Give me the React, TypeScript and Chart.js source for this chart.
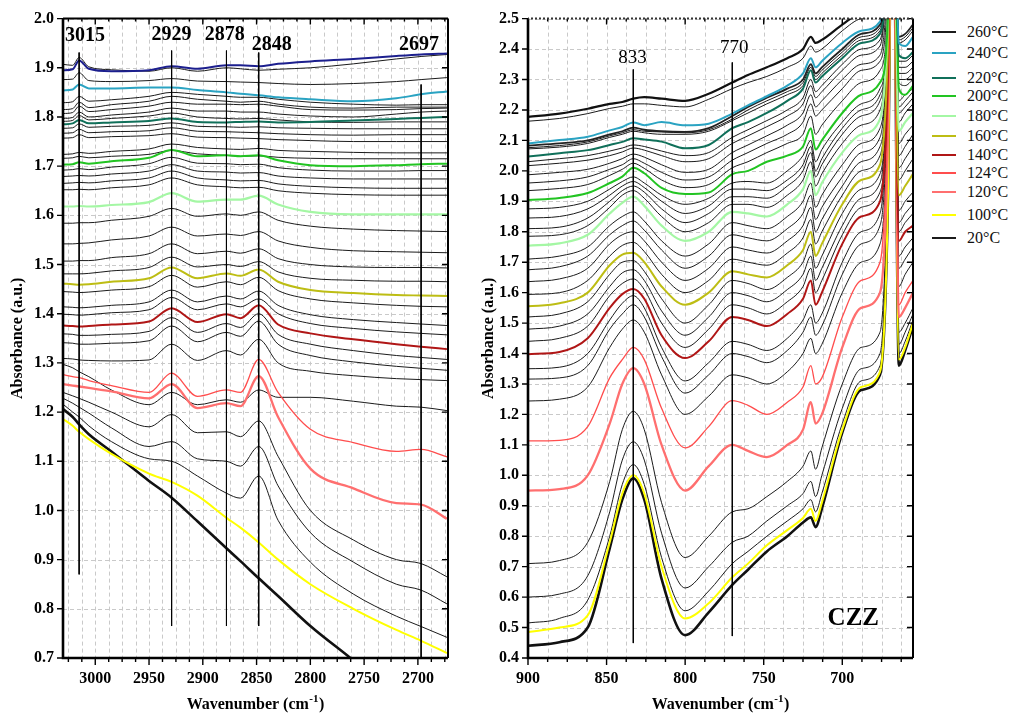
import React, { useEffect, useRef } from "react";
import { Chart, registerables } from "chart.js";

Chart.register(...registerables);

const SERIF = '"Liberation Serif", "Times New Roman", serif';
const INK = "#1b1b1b";

// ---------- C–H stretching region (left panel) ----------
const LEFT_WN = [3030, 3021, 3015, 3006, 2985, 2950, 2929, 2905, 2878, 2865, 2848, 2830, 2800, 2760, 2720, 2697, 2673];

const L_TOP = [1.907, 1.905, 1.921, 1.902, 1.896, 1.893, 1.9, 1.893, 1.9, 1.898, 1.895, 1.897, 1.9, 1.908, 1.918, 1.923, 1.927];
const L_NAVY = [1.895, 1.897, 1.915, 1.898, 1.893, 1.895, 1.903, 1.898, 1.905, 1.905, 1.903, 1.908, 1.913, 1.918, 1.924, 1.927, 1.929];
const L_K3 = [1.876, 1.877, 1.89, 1.874, 1.872, 1.874, 1.878, 1.873, 1.872, 1.871, 1.87, 1.868, 1.866, 1.868, 1.872, 1.876, 1.88];
const L_240 = [1.854, 1.856, 1.866, 1.858, 1.858, 1.86, 1.86, 1.855, 1.85, 1.847, 1.844, 1.84, 1.836, 1.832, 1.838, 1.846, 1.852];
const L_C1 = [1.829, 1.831, 1.842, 1.832, 1.835, 1.842, 1.85, 1.846, 1.842, 1.84, 1.84, 1.836, 1.83, 1.826, 1.824, 1.825, 1.825];
const L_C2 = [1.815, 1.817, 1.83, 1.819, 1.825, 1.832, 1.842, 1.836, 1.832, 1.83, 1.832, 1.826, 1.82, 1.818, 1.82, 1.82, 1.82];
const L_C3 = [1.807, 1.809, 1.822, 1.811, 1.815, 1.822, 1.83, 1.826, 1.826, 1.825, 1.826, 1.822, 1.815, 1.814, 1.815, 1.817, 1.818];
const L_C4 = [1.797, 1.799, 1.81, 1.8, 1.804, 1.81, 1.818, 1.812, 1.812, 1.81, 1.81, 1.806, 1.802, 1.8, 1.806, 1.81, 1.812];
const L_C5 = [1.791, 1.793, 1.803, 1.794, 1.797, 1.802, 1.808, 1.8, 1.797, 1.796, 1.797, 1.794, 1.79, 1.789, 1.79, 1.79, 1.79];
const L_220 = [1.785, 1.787, 1.794, 1.787, 1.789, 1.792, 1.797, 1.79, 1.789, 1.79, 1.791, 1.789, 1.79, 1.793, 1.796, 1.798, 1.8];
const L_D1 = [1.777, 1.778, 1.786, 1.779, 1.781, 1.783, 1.788, 1.781, 1.78, 1.779, 1.78, 1.778, 1.777, 1.776, 1.776, 1.776, 1.776];
const L_D2 = [1.767, 1.768, 1.775, 1.768, 1.77, 1.772, 1.778, 1.771, 1.77, 1.769, 1.768, 1.766, 1.764, 1.763, 1.764, 1.764, 1.764];
const L_D3 = [1.757, 1.758, 1.764, 1.758, 1.76, 1.762, 1.766, 1.759, 1.758, 1.757, 1.756, 1.754, 1.752, 1.75, 1.75, 1.75, 1.75];
const L_D4 = [1.724, 1.725, 1.728, 1.726, 1.73, 1.735, 1.745, 1.738, 1.735, 1.734, 1.736, 1.732, 1.73, 1.728, 1.727, 1.727, 1.727];
const L_D5 = [1.716, 1.717, 1.72, 1.717, 1.72, 1.724, 1.732, 1.725, 1.722, 1.72, 1.721, 1.718, 1.716, 1.715, 1.715, 1.715, 1.715];
const L_200 = [1.703, 1.704, 1.708, 1.705, 1.71, 1.717, 1.733, 1.72, 1.722, 1.72, 1.722, 1.712, 1.702, 1.7, 1.702, 1.704, 1.705];
const L_E1 = [1.692, 1.693, 1.695, 1.693, 1.698, 1.705, 1.718, 1.706, 1.705, 1.703, 1.704, 1.697, 1.692, 1.69, 1.69, 1.691, 1.691];
const L_E2 = [1.679, 1.68, 1.681, 1.68, 1.684, 1.69, 1.703, 1.69, 1.688, 1.686, 1.687, 1.68, 1.676, 1.674, 1.674, 1.674, 1.674];
const L_E3 = [1.665, 1.666, 1.667, 1.666, 1.67, 1.676, 1.69, 1.676, 1.672, 1.67, 1.671, 1.664, 1.659, 1.656, 1.655, 1.655, 1.655];
const L_E4 = [1.652, 1.652, 1.653, 1.652, 1.656, 1.662, 1.676, 1.662, 1.658, 1.656, 1.657, 1.65, 1.645, 1.642, 1.641, 1.641, 1.641];
const L_180 = [1.618, 1.618, 1.619, 1.618, 1.621, 1.627, 1.645, 1.628, 1.632, 1.632, 1.64, 1.622, 1.607, 1.602, 1.602, 1.602, 1.602];
const L_F1 = [1.584, 1.584, 1.585, 1.585, 1.59, 1.598, 1.614, 1.598, 1.603, 1.6, 1.607, 1.59, 1.578, 1.572, 1.569, 1.568, 1.567];
const L_F2 = [1.542, 1.542, 1.543, 1.544, 1.55, 1.558, 1.576, 1.558, 1.562, 1.559, 1.567, 1.548, 1.535, 1.528, 1.526, 1.525, 1.524];
const L_F3 = [1.507, 1.507, 1.508, 1.508, 1.514, 1.522, 1.542, 1.522, 1.527, 1.523, 1.532, 1.512, 1.5, 1.495, 1.494, 1.494, 1.493];
const L_F4 = [1.481, 1.481, 1.481, 1.482, 1.487, 1.494, 1.515, 1.495, 1.5, 1.496, 1.506, 1.485, 1.472, 1.468, 1.466, 1.466, 1.465];
const L_160 = [1.461, 1.46, 1.459, 1.46, 1.465, 1.472, 1.494, 1.472, 1.482, 1.477, 1.49, 1.465, 1.448, 1.442, 1.438, 1.437, 1.436];
const L_G1 = [1.445, 1.444, 1.443, 1.444, 1.448, 1.455, 1.478, 1.454, 1.465, 1.459, 1.474, 1.447, 1.43, 1.422, 1.417, 1.415, 1.414];
const L_G2 = [1.414, 1.413, 1.412, 1.413, 1.417, 1.424, 1.448, 1.424, 1.436, 1.43, 1.446, 1.417, 1.398, 1.388, 1.382, 1.379, 1.376];
const L_G3 = [1.399, 1.398, 1.397, 1.398, 1.402, 1.408, 1.433, 1.408, 1.42, 1.414, 1.43, 1.4, 1.38, 1.37, 1.363, 1.36, 1.357];
const L_140 = [1.376, 1.375, 1.374, 1.375, 1.378, 1.384, 1.411, 1.383, 1.399, 1.391, 1.417, 1.378, 1.36, 1.348, 1.338, 1.333, 1.328];
const L_H1 = [1.359, 1.358, 1.356, 1.356, 1.358, 1.364, 1.392, 1.362, 1.38, 1.372, 1.4, 1.358, 1.338, 1.325, 1.315, 1.311, 1.307];
const L_H2 = [1.341, 1.34, 1.338, 1.338, 1.34, 1.345, 1.375, 1.343, 1.362, 1.354, 1.385, 1.338, 1.315, 1.302, 1.293, 1.289, 1.285];
const L_H3 = [1.309, 1.308, 1.306, 1.305, 1.304, 1.306, 1.338, 1.305, 1.325, 1.316, 1.348, 1.3, 1.283, 1.274, 1.268, 1.266, 1.264];
const L_H4 = [1.297, 1.29, 1.282, 1.272, 1.245, 1.215, 1.24, 1.215, 1.225, 1.22, 1.245, 1.23, 1.23, 1.222, 1.212, 1.21, 1.203];
const L_124 = [1.276, 1.272, 1.27, 1.264, 1.254, 1.24, 1.279, 1.232, 1.245, 1.24, 1.307, 1.24, 1.165, 1.138, 1.12, 1.124, 1.109];
const L_120 = [1.257, 1.254, 1.252, 1.249, 1.242, 1.228, 1.257, 1.208, 1.218, 1.212, 1.273, 1.19, 1.085, 1.045, 1.015, 1.012, 0.983];
const L_B1 = [1.24, 1.233, 1.228, 1.22, 1.2, 1.17, 1.195, 1.158, 1.16, 1.15, 1.182, 1.11, 1.0, 0.94, 0.9, 0.892, 0.865];
const L_B2 = [1.228, 1.218, 1.21, 1.198, 1.168, 1.13, 1.14, 1.105, 1.1, 1.09, 1.13, 1.05, 0.955, 0.895, 0.85, 0.838, 0.81];
const L_B3 = [1.216, 1.2, 1.19, 1.172, 1.14, 1.105, 1.1, 1.07, 1.035, 1.025, 1.07, 0.98, 0.895, 0.83, 0.785, 0.764, 0.742];
const L_100 = [1.186, 1.172, 1.16, 1.145, 1.115, 1.075, 1.058, 1.03, 0.985, 0.965, 0.935, 0.9, 0.85, 0.8, 0.757, 0.735, 0.71];
const L_20 = [1.206, 1.19, 1.175, 1.155, 1.12, 1.06, 1.026, 0.978, 0.923, 0.897, 0.862, 0.826, 0.765, 0.695, 0.62, 0.575, 0.53];

const LEFT_X_LABELS = [3000, 2950, 2900, 2850, 2800, 2750, 2700];
const LEFT_Y_LABELS = [0.7, 0.8, 0.9, 1.0, 1.1, 1.2, 1.3, 1.4, 1.5, 1.6, 1.7, 1.8, 1.9, 2.0];
const LEFT_MARK_WN = [3015, 2929, 2878, 2848, 2697];
const LEFT_MARK_TOP = [1.931, 1.935, 1.935, 1.931, 1.866];
const LEFT_MARK_BOTTOM = [0.87, 0.765, 0.765, 0.765, 0.7];
const LEFT_PEAK_TEXT = ["3015", "2929", "2878", "2848", "2697"];
const LEFT_PEAK_X = [3009.5, 2929, 2879.5, 2836, 2699];
const LEFT_PEAK_Y = [1.964, 1.968, 1.966, 1.947, 1.947];

// ---------- out-of-plane region (right panel) ----------
const RIGHT_WN = [900, 880, 862, 848, 840, 833, 826, 815, 800, 785, 770, 760, 748, 735, 725, 720, 717, 713, 700, 688, 676, 671, 668, 664, 660, 655];

const R_260 = [2.177, 2.188, 2.204, 2.22, 2.226, 2.237, 2.242, 2.237, 2.23, 2.253, 2.29, 2.315, 2.34, 2.37, 2.4, 2.44, 2.42, 2.43, 2.48, 2.52, 2.55, 2.7, 3.2, 2.55, 2.56, 2.58];
const R_K2 = [2.163, 2.172, 2.188, 2.205, 2.212, 2.22, 2.22, 2.215, 2.21, 2.235, 2.27, 2.29, 2.31, 2.34, 2.37, 2.41, 2.39, 2.4, 2.46, 2.5, 2.53, 2.7, 3.2, 2.52, 2.53, 2.55];
const R_240 = [2.09, 2.101, 2.112, 2.133, 2.144, 2.159, 2.15, 2.16, 2.15, 2.155, 2.188, 2.215, 2.245, 2.28, 2.32, 2.37, 2.34, 2.36, 2.42, 2.46, 2.49, 2.7, 3.2, 2.42, 2.41, 2.44];
const R_K4 = [2.083, 2.09, 2.1, 2.12, 2.13, 2.142, 2.135, 2.13, 2.128, 2.14, 2.18, 2.21, 2.24, 2.27, 2.3, 2.35, 2.32, 2.34, 2.4, 2.45, 2.48, 2.7, 3.2, 2.44, 2.45, 2.48];
const R_K5 = [2.076, 2.083, 2.095, 2.115, 2.125, 2.135, 2.13, 2.128, 2.125, 2.135, 2.17, 2.2, 2.23, 2.26, 2.29, 2.34, 2.31, 2.33, 2.39, 2.44, 2.47, 2.7, 3.2, 2.43, 2.44, 2.47];
const R_K6 = [2.072, 2.078, 2.09, 2.11, 2.12, 2.13, 2.125, 2.12, 2.12, 2.13, 2.165, 2.19, 2.22, 2.25, 2.28, 2.33, 2.3, 2.32, 2.38, 2.43, 2.46, 2.7, 3.2, 2.42, 2.43, 2.46];
const R_220 = [2.047, 2.058, 2.068, 2.085, 2.095, 2.107, 2.103, 2.096, 2.074, 2.085, 2.14, 2.16, 2.19, 2.23, 2.27, 2.33, 2.29, 2.31, 2.37, 2.42, 2.45, 2.7, 3.2, 2.38, 2.37, 2.39];
const R_K7 = [2.03, 2.04, 2.05, 2.065, 2.075, 2.085, 2.08, 2.065, 2.05, 2.06, 2.11, 2.135, 2.165, 2.2, 2.24, 2.3, 2.26, 2.28, 2.35, 2.4, 2.43, 2.7, 3.2, 2.36, 2.36, 2.38];
const R_K8 = [2.017, 2.025, 2.035, 2.05, 2.062, 2.075, 2.068, 2.05, 2.03, 2.04, 2.09, 2.115, 2.145, 2.18, 2.22, 2.28, 2.24, 2.26, 2.33, 2.38, 2.41, 2.7, 3.2, 2.34, 2.34, 2.36];
const R_K9 = [1.987, 1.995, 2.005, 2.025, 2.04, 2.055, 2.045, 2.02, 1.995, 2.005, 2.06, 2.085, 2.115, 2.15, 2.19, 2.25, 2.21, 2.23, 2.3, 2.35, 2.38, 2.65, 3.2, 2.32, 2.32, 2.34];
const R_K10 = [1.96, 1.967, 1.98, 2.005, 2.02, 2.04, 2.025, 1.995, 1.97, 1.98, 2.035, 2.06, 2.09, 2.12, 2.16, 2.22, 2.18, 2.2, 2.27, 2.33, 2.36, 2.6, 3.2, 2.3, 2.3, 2.32];
const R_K11 = [1.935, 1.942, 1.955, 1.985, 2.005, 2.025, 2.008, 1.97, 1.945, 1.955, 2.01, 2.03, 2.06, 2.09, 2.12, 2.18, 2.12, 2.15, 2.23, 2.29, 2.33, 2.55, 3.2, 2.29, 2.28, 2.3];
const R_200 = [1.904, 1.911, 1.927, 1.96, 1.981, 2.01, 1.992, 1.944, 1.924, 1.929, 1.989, 2.0, 2.03, 2.05, 2.08, 2.14, 2.07, 2.1, 2.19, 2.25, 2.29, 2.5, 3.2, 2.27, 2.25, 2.28];
const R_K12 = [1.875, 1.88, 1.9, 1.94, 1.965, 1.98, 1.96, 1.92, 1.89, 1.91, 1.96, 1.965, 1.96, 2.0, 2.05, 2.1, 2.03, 2.07, 2.16, 2.22, 2.27, 2.5, 3.2, 2.23, 2.25, 2.27];
const R_K13 = [1.845, 1.85, 1.875, 1.92, 1.95, 1.965, 1.945, 1.9, 1.86, 1.885, 1.94, 1.94, 1.935, 1.97, 2.02, 2.08, 2.0, 2.04, 2.14, 2.2, 2.25, 2.5, 3.2, 2.21, 2.23, 2.26];
const R_K14 = [1.81, 1.815, 1.845, 1.9, 1.935, 1.95, 1.93, 1.875, 1.83, 1.86, 1.915, 1.915, 1.91, 1.95, 2.0, 2.06, 1.98, 2.02, 2.12, 2.18, 2.23, 2.5, 3.2, 2.19, 2.21, 2.24];
const R_K15 = [1.785, 1.79, 1.82, 1.88, 1.92, 1.935, 1.91, 1.85, 1.8, 1.83, 1.89, 1.89, 1.88, 1.92, 1.97, 2.03, 1.95, 1.99, 2.09, 2.15, 2.2, 2.5, 3.2, 2.16, 2.19, 2.22];
const R_180 = [1.754, 1.762, 1.79, 1.86, 1.895, 1.915, 1.885, 1.82, 1.77, 1.8, 1.865, 1.86, 1.85, 1.89, 1.94, 2.0, 1.92, 1.96, 2.06, 2.12, 2.17, 2.5, 3.2, 2.13, 2.16, 2.19];
const R_K16 = [1.71, 1.72, 1.75, 1.82, 1.85, 1.865, 1.835, 1.77, 1.72, 1.76, 1.83, 1.82, 1.81, 1.85, 1.9, 1.96, 1.88, 1.92, 2.02, 2.09, 2.14, 2.45, 3.2, 2.09, 2.12, 2.15];
const R_K17 = [1.675, 1.685, 1.72, 1.79, 1.82, 1.835, 1.805, 1.74, 1.68, 1.72, 1.79, 1.78, 1.77, 1.81, 1.86, 1.92, 1.84, 1.88, 1.98, 2.06, 2.11, 2.45, 3.2, 2.05, 2.08, 2.12];
const R_K18 = [1.636, 1.645, 1.68, 1.76, 1.79, 1.8, 1.77, 1.7, 1.64, 1.68, 1.75, 1.74, 1.73, 1.77, 1.82, 1.88, 1.8, 1.84, 1.95, 2.03, 2.08, 2.4, 3.2, 2.01, 2.04, 2.08];
const R_K19 = [1.594, 1.6, 1.64, 1.72, 1.755, 1.765, 1.735, 1.66, 1.6, 1.64, 1.71, 1.7, 1.69, 1.73, 1.78, 1.84, 1.76, 1.8, 1.92, 2.0, 2.05, 2.4, 3.2, 1.97, 2.0, 2.04];
const R_160 = [1.555, 1.565, 1.6, 1.69, 1.725, 1.731, 1.7, 1.62, 1.56, 1.6, 1.67, 1.66, 1.65, 1.69, 1.74, 1.8, 1.72, 1.76, 1.89, 1.97, 2.02, 2.4, 3.2, 1.92, 1.95, 1.99];
const R_K20 = [1.52, 1.53, 1.57, 1.66, 1.7, 1.705, 1.67, 1.58, 1.5, 1.56, 1.64, 1.63, 1.61, 1.65, 1.7, 1.76, 1.68, 1.72, 1.86, 1.94, 1.99, 2.35, 3.2, 1.87, 1.9, 1.93];
const R_K21 = [1.48, 1.49, 1.53, 1.62, 1.665, 1.675, 1.64, 1.54, 1.46, 1.52, 1.6, 1.59, 1.57, 1.61, 1.66, 1.72, 1.64, 1.68, 1.82, 1.91, 1.96, 2.35, 3.2, 1.83, 1.86, 1.89];
const R_K22 = [1.44, 1.45, 1.49, 1.59, 1.63, 1.645, 1.61, 1.5, 1.42, 1.48, 1.56, 1.55, 1.53, 1.57, 1.62, 1.68, 1.6, 1.64, 1.79, 1.88, 1.93, 2.3, 3.2, 1.8, 1.83, 1.86];
const R_140 = [1.398, 1.405, 1.45, 1.55, 1.595, 1.612, 1.58, 1.46, 1.385, 1.44, 1.52, 1.51, 1.49, 1.53, 1.58, 1.64, 1.56, 1.6, 1.76, 1.85, 1.9, 2.3, 3.2, 1.77, 1.8, 1.82];
const R_K23 = [1.35, 1.355, 1.4, 1.51, 1.565, 1.59, 1.55, 1.42, 1.31, 1.37, 1.44, 1.43, 1.41, 1.45, 1.51, 1.56, 1.5, 1.53, 1.7, 1.8, 1.86, 2.3, 3.2, 1.72, 1.75, 1.78];
const R_K24 = [1.316, 1.32, 1.36, 1.48, 1.53, 1.56, 1.52, 1.39, 1.27, 1.33, 1.4, 1.39, 1.37, 1.41, 1.47, 1.52, 1.46, 1.49, 1.66, 1.76, 1.82, 2.25, 3.2, 1.68, 1.71, 1.75];
const R_K25 = [1.244, 1.25, 1.29, 1.42, 1.48, 1.51, 1.47, 1.33, 1.2, 1.26, 1.33, 1.32, 1.3, 1.34, 1.4, 1.45, 1.4, 1.43, 1.6, 1.7, 1.76, 2.2, 3.2, 1.62, 1.66, 1.7];
const R_124 = [1.113, 1.115, 1.16, 1.32, 1.38, 1.42, 1.38, 1.22, 1.09, 1.16, 1.245, 1.23, 1.2, 1.24, 1.29, 1.36, 1.3, 1.32, 1.52, 1.64, 1.7, 2.2, 3.2, 1.56, 1.6, 1.64];
const R_120 = [0.95, 0.955, 1.0, 1.17, 1.3, 1.352, 1.3, 1.1, 0.95, 1.03, 1.1, 1.08, 1.06, 1.1, 1.15, 1.24, 1.17, 1.2, 1.42, 1.55, 1.6, 2.1, 3.2, 1.52, 1.55, 1.6];
const R_K26 = [0.71, 0.72, 0.78, 0.98, 1.15, 1.21, 1.15, 0.91, 0.73, 0.8, 0.88, 0.89, 0.93, 0.98, 1.03, 1.08, 1.02, 1.09, 1.3, 1.42, 1.47, 2.05, 3.2, 1.47, 1.5, 1.55];
const R_K27 = [0.6, 0.61, 0.67, 0.88, 1.05, 1.11, 1.05, 0.81, 0.63, 0.7, 0.78, 0.8, 0.85, 0.9, 0.94, 0.98, 0.93, 1.0, 1.22, 1.35, 1.4, 2.0, 3.2, 1.43, 1.47, 1.53];
const R_K28 = [0.515, 0.53, 0.59, 0.8, 0.97, 1.035, 0.97, 0.73, 0.555, 0.62, 0.71, 0.75, 0.8, 0.85, 0.89, 0.92, 0.88, 0.94, 1.17, 1.31, 1.36, 1.95, 3.2, 1.4, 1.44, 1.51];
const R_100 = [0.485, 0.5, 0.54, 0.78, 0.94, 1.0, 0.94, 0.7, 0.53, 0.58, 0.665, 0.71, 0.77, 0.82, 0.86, 0.89, 0.85, 0.91, 1.15, 1.29, 1.34, 1.9, 3.2, 1.38, 1.42, 1.5];
const R_20 = [0.44, 0.452, 0.5, 0.76, 0.92, 0.99, 0.92, 0.66, 0.475, 0.55, 0.64, 0.69, 0.75, 0.8, 0.845, 0.862, 0.83, 0.89, 1.14, 1.28, 1.33, 1.9, 3.2, 1.36, 1.41, 1.49];

const RIGHT_X_LABELS = [900, 850, 800, 750, 700];
const RIGHT_Y_LABELS = [0.4, 0.5, 0.6, 0.7, 0.8, 0.9, 1.0, 1.1, 1.2, 1.3, 1.4, 1.5, 1.6, 1.7, 1.8, 1.9, 2.0, 2.1, 2.2, 2.3, 2.4, 2.5];
const RIGHT_MARK_WN = [833, 770];
const RIGHT_MARK_TOP = [2.333, 2.356];
const RIGHT_MARK_BOTTOM = [0.449, 0.472];
const RIGHT_PEAK_TEXT = ["833", "770"];
const RIGHT_PEAK_X = [833.5, 768.8];
const RIGHT_PEAK_Y = [2.369, 2.405];

// ---------- legend ----------
const LEGEND_LABELS = ["260°C", "240°C", "220°C", "200°C", "180°C", "160°C", "140°C", "124°C", "120°C", "100°C", "20°C"];
const C = {
  navy: "#1c1f8e",
  t240: "#2aa3c2",
  t220: "#10705a",
  t200: "#22c422",
  t180: "#a4f7a4",
  t160: "#bdbd14",
  t140: "#b01616",
  t124: "#ff4d4d",
  t120: "#ff6f6f",
  t100: "#ffff00",
};
const LEGEND_COLORS = [INK, C.t240, C.t220, C.t200, C.t180, C.t160, C.t140, C.t124, C.t120, C.t100, INK];
const LEGEND_ROW_Y = [32, 53, 78, 96, 116, 136, 155, 173, 192, 215, 238];

type Style = { y: number[]; color: string; width: number; order: number };
const thin = (y: number[]): Style => ({ y, color: INK, width: 1, order: 3 });
const col = (y: number[], color: string, width = 2): Style => ({ y, color, width, order: 2 });

const LEFT_STYLES: Style[] = [
  thin(L_TOP), col(L_NAVY, C.navy), thin(L_K3), col(L_240, C.t240),
  thin(L_C1), thin(L_C2), thin(L_C3), thin(L_C4), thin(L_C5), col(L_220, C.t220),
  thin(L_D1), thin(L_D2), thin(L_D3), thin(L_D4), thin(L_D5), col(L_200, C.t200),
  thin(L_E1), thin(L_E2), thin(L_E3), thin(L_E4), col(L_180, C.t180, 2.2),
  thin(L_F1), thin(L_F2), thin(L_F3), thin(L_F4), col(L_160, C.t160),
  thin(L_G1), thin(L_G2), thin(L_G3), col(L_140, C.t140),
  thin(L_H1), thin(L_H2), thin(L_H3), thin(L_H4),
  col(L_124, C.t124, 1.3), col(L_120, C.t120, 2.3),
  thin(L_B1), thin(L_B2), thin(L_B3), col(L_100, C.t100), col(L_20, "#111", 2.6),
];

const RIGHT_STYLES: Style[] = [
  col(R_260, "#111", 2.2), thin(R_K2), col(R_240, C.t240), col(R_K4, "#222", 1.8), thin(R_K5), thin(R_K6),
  col(R_220, C.t220), thin(R_K7), thin(R_K8), thin(R_K9), thin(R_K10), thin(R_K11),
  col(R_200, C.t200), thin(R_K12), thin(R_K13), thin(R_K14), thin(R_K15),
  col(R_180, C.t180, 2.2), thin(R_K16), thin(R_K17), thin(R_K18), thin(R_K19),
  col(R_160, C.t160), thin(R_K20), thin(R_K21), thin(R_K22),
  col(R_140, C.t140), thin(R_K23), thin(R_K24), thin(R_K25),
  col(R_124, C.t124, 1.3), col(R_120, C.t120, 2.3),
  thin(R_K26), thin(R_K27), thin(R_K28), col(R_100, C.t100), col(R_20, "#111", 2.6),
];

type PanelCfg = {
  wn: number[];
  styles: Style[];
  xMin: number;
  xMax: number;
  yMin: number;
  yMax: number;
  xLabels: number[];
  yLabels: number[];
  markWn: number[];
  markTop: number[];
  markBottom: number[];
  peakText: string[];
  peakX: number[];
  peakY: number[];
  peakFont: string;
  yAxisWidth: number;
  padRight: number;
  yTitleX: number;
  dottedTop: boolean;
  tag?: { text: string; x: number; y: number };
};

const decor = {
  id: "decor",
  beforeDatasetsDraw(chart: any, _a: any, o: any) {
    const { ctx, chartArea: a, scales } = chart;
    const x = scales.x;
    const y = scales.y;
    ctx.save();
    ctx.strokeStyle = "#c9c9c9";
    ctx.lineWidth = 1;
    ctx.setLineDash([4, 3]);
    const xs = Math.ceil(o.xMin / 12.5) * 12.5;
    for (let v = xs; v <= o.xMax; v += 12.5) {
      const px = Math.round(x.getPixelForValue(v)) + 0.5;
      ctx.beginPath();
      ctx.moveTo(px, a.top);
      ctx.lineTo(px, a.bottom);
      ctx.stroke();
    }
    for (const v of o.yLabels) {
      const py = Math.round(y.getPixelForValue(v)) + 0.5;
      ctx.beginPath();
      ctx.moveTo(a.left, py);
      ctx.lineTo(a.right, py);
      ctx.stroke();
    }
    ctx.restore();
  },
  afterDatasetsDraw(chart: any, _a: any, o: any) {
    const { ctx, chartArea: a, scales } = chart;
    const x = scales.x;
    const y = scales.y;
    ctx.save();
    ctx.setLineDash([]);
    ctx.strokeStyle = "#000";
    // tick marks: outward on bottom/left, inward on top/right
    ctx.lineWidth = 1.4;
    const xs = Math.ceil(o.xMin / 12.5) * 12.5;
    for (let v = xs; v <= o.xMax; v += 12.5) {
      const px = x.getPixelForValue(v);
      const major = Math.abs(v % 50) < 1e-6;
      const lb = major ? 7 : 4;
      const lt = major ? 6 : 3;
      ctx.beginPath();
      ctx.moveTo(px, a.bottom);
      ctx.lineTo(px, a.bottom + lb);
      ctx.moveTo(px, a.top);
      ctx.lineTo(px, a.top + lt);
      ctx.stroke();
    }
    for (const v of o.yLabels) {
      const py = y.getPixelForValue(v);
      ctx.beginPath();
      ctx.moveTo(a.left, py);
      ctx.lineTo(a.left - 6, py);
      ctx.moveTo(a.right, py);
      ctx.lineTo(a.right - 6, py);
      ctx.stroke();
    }
    // frame
    ctx.lineWidth = 2.6;
    ctx.beginPath();
    ctx.moveTo(a.left, a.top);
    ctx.lineTo(a.left, a.bottom);
    ctx.lineTo(a.right, a.bottom);
    ctx.stroke();
    ctx.lineWidth = 2;
    ctx.beginPath();
    ctx.moveTo(a.right, a.bottom);
    ctx.lineTo(a.right, a.top);
    ctx.stroke();
    if (o.dottedTop) {
      ctx.strokeStyle = "#333";
      ctx.setLineDash([2, 2]);
    }
    ctx.beginPath();
    ctx.moveTo(a.right, a.top);
    ctx.lineTo(a.left, a.top);
    ctx.stroke();
    ctx.setLineDash([]);
    // peak labels
    ctx.fillStyle = "#000";
    ctx.font = o.peakFont;
    ctx.textAlign = "center";
    ctx.textBaseline = "middle";
    o.peakText.forEach((t: string, i: number) => {
      ctx.fillText(t, x.getPixelForValue(o.peakX[i]), y.getPixelForValue(o.peakY[i]));
    });
    if (o.tag) {
      ctx.font = `bold 25px ${SERIF}`;
      ctx.fillText(o.tag.text, x.getPixelForValue(o.tag.x), y.getPixelForValue(o.tag.y));
    }
    ctx.restore();
  },
  afterDraw(chart: any, _a: any, o: any) {
    const { ctx, chartArea: a } = chart;
    ctx.save();
    ctx.fillStyle = "#000";
    ctx.textBaseline = "middle";
    // x-axis title with superscript
    const main = `bold 16px ${SERIF}`;
    const sup = `bold 11px ${SERIF}`;
    const p1 = "Wavenumber (cm";
    const p2 = "-1";
    const p3 = ")";
    ctx.font = main;
    const w1 = ctx.measureText(p1).width;
    const w3 = ctx.measureText(p3).width;
    ctx.font = sup;
    const w2 = ctx.measureText(p2).width;
    const total = w1 + w2 + 1 + w3;
    let cx = (a.left + a.right) / 2 - total / 2;
    const ty = 705;
    ctx.textAlign = "left";
    ctx.font = main;
    ctx.fillText(p1, cx, ty);
    cx += w1 + 0.5;
    ctx.font = sup;
    ctx.fillText(p2, cx, ty - 6);
    cx += w2 + 0.5;
    ctx.font = main;
    ctx.fillText(p3, cx, ty);
    // y-axis title
    ctx.translate(o.yTitleX, (a.top + a.bottom) / 2);
    ctx.rotate(-Math.PI / 2);
    ctx.textAlign = "center";
    ctx.font = `bold 16px ${SERIF}`;
    ctx.fillText("Absorbance (a.u.)", 0, 0);
    ctx.restore();
  },
};

function Panel({ cfg, left, width }: { cfg: PanelCfg; left: number; width: number }) {
  const ref = useRef<HTMLCanvasElement | null>(null);
  useEffect(() => {
    if (!ref.current) return;
    const spectra = cfg.styles.map((s) => ({
      data: cfg.wn.map((w, i) => ({ x: w, y: s.y[i] })),
      borderColor: s.color,
      borderWidth: s.width,
      pointRadius: 0,
      cubicInterpolationMode: "monotone" as const,
      fill: false,
      order: s.order,
    }));
    const marks = cfg.markWn.map((w, i) => ({
      data: [
        { x: w, y: cfg.markTop[i] },
        { x: w, y: cfg.markBottom[i] },
      ],
      borderColor: "#000",
      borderWidth: 1,
      pointRadius: 0,
      fill: false,
      order: 0,
    }));
    const tickFont = { family: SERIF, size: 16, weight: "bold" as const };
    const chart = new Chart(ref.current, {
      type: "line",
      data: { datasets: [...marks, ...spectra] },
      options: {
        animation: false,
        responsive: false,
        events: [],
        layout: { padding: { top: 16, right: cfg.padRight, left: 0, bottom: 0 } },
        plugins: {
          legend: { display: false },
          tooltip: { enabled: false },
          decor: {
            xMin: cfg.xMin,
            xMax: cfg.xMax,
            yLabels: cfg.yLabels,
            peakText: cfg.peakText,
            peakX: cfg.peakX,
            peakY: cfg.peakY,
            peakFont: cfg.peakFont,
            yTitleX: cfg.yTitleX,
            dottedTop: cfg.dottedTop,
            tag: cfg.tag,
          },
        } as any,
        scales: {
          x: {
            type: "linear",
            reverse: true,
            min: cfg.xMin,
            max: cfg.xMax,
            grid: { display: false, drawTicks: false },
            border: { display: false },
            afterBuildTicks: (s: any) => {
              s.ticks = cfg.xLabels.map((v) => ({ value: v }));
            },
            afterFit: (s: any) => {
              s.height = 55;
            },
            ticks: {
              font: tickFont,
              color: "#000",
              padding: 11,
              maxRotation: 0,
              autoSkip: false,
              callback: (v: any) => String(v),
            },
          },
          y: {
            type: "linear",
            min: cfg.yMin,
            max: cfg.yMax,
            grid: { display: false, drawTicks: false },
            border: { display: false },
            afterBuildTicks: (s: any) => {
              s.ticks = cfg.yLabels.map((v) => ({ value: v }));
            },
            afterFit: (s: any) => {
              s.width = cfg.yAxisWidth;
            },
            ticks: {
              font: tickFont,
              color: "#000",
              padding: 9,
              autoSkip: false,
              callback: (v: any) => Number(v).toFixed(1),
            },
          },
        },
      },
      plugins: [decor as any],
    });
    return () => chart.destroy();
  }, [cfg]);
  return (
    <canvas
      ref={ref}
      width={width}
      height={713}
      style={{ position: "absolute", left, top: 0, width, height: 713 }}
    />
  );
}

const LEFT_CFG: PanelCfg = {
  wn: LEFT_WN,
  styles: LEFT_STYLES,
  xMin: 2672,
  xMax: 3030,
  yMin: 0.7,
  yMax: 2.0,
  xLabels: LEFT_X_LABELS,
  yLabels: LEFT_Y_LABELS,
  markWn: LEFT_MARK_WN,
  markTop: LEFT_MARK_TOP,
  markBottom: LEFT_MARK_BOTTOM,
  peakText: LEFT_PEAK_TEXT,
  peakX: LEFT_PEAK_X,
  peakY: LEFT_PEAK_Y,
  peakFont: `bold 20px ${SERIF}`,
  yAxisWidth: 63,
  padRight: 12,
  yTitleX: 18,
  dottedTop: false,
};

const RIGHT_CFG: PanelCfg = {
  wn: RIGHT_WN,
  styles: RIGHT_STYLES,
  xMin: 655,
  xMax: 900,
  yMin: 0.4,
  yMax: 2.5,
  xLabels: RIGHT_X_LABELS,
  yLabels: RIGHT_Y_LABELS,
  markWn: RIGHT_MARK_WN,
  markTop: RIGHT_MARK_TOP,
  markBottom: RIGHT_MARK_BOTTOM,
  peakText: RIGHT_PEAK_TEXT,
  peakX: RIGHT_PEAK_X,
  peakY: RIGHT_PEAK_Y,
  peakFont: `19px ${SERIF}`,
  yAxisWidth: 68,
  padRight: 17,
  yTitleX: 29,
  dottedTop: true,
  tag: { text: "CZZ", x: 693, y: 0.53 },
};

export default function App() {
  return (
    <div style={{ position: "fixed", left: 0, top: 0, width: 1014, height: 713, background: "#fff", overflow: "hidden" }}>
      <Panel cfg={LEFT_CFG} left={0} width={460} />
      <Panel cfg={RIGHT_CFG} left={460} width={470} />
      {LEGEND_LABELS.map((label, i) => (
        <div
          key={label}
          style={{ position: "absolute", left: 932, top: LEGEND_ROW_Y[i] - 10, height: 20, display: "flex", alignItems: "center" }}
        >
          <div style={{ width: 24, height: 2.5, background: LEGEND_COLORS[i] }} />
          <span style={{ marginLeft: 11, font: `16px ${SERIF}`, color: "#111", whiteSpace: "nowrap" }}>{label}</span>
        </div>
      ))}
    </div>
  );
}
